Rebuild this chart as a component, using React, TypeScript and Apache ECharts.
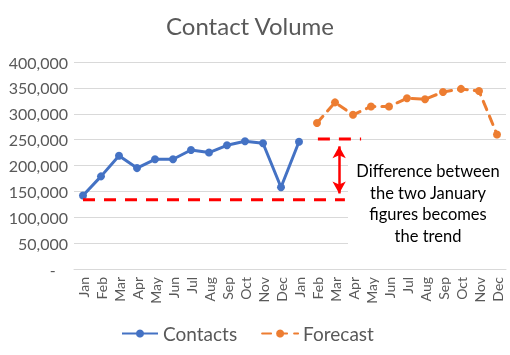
import React, { useEffect, useRef } from "react";
import * as echarts from "echarts";

const months = ["Jan","Feb","Mar","Apr","May","Jun","Jul","Aug","Sep","Oct","Nov","Dec"];
const categories = [...months, ...months];
const contacts = [142000,179000,219000,195000,212000,212000,230000,225000,239000,247000,243000,158000,246000];
const forecast = [282000,322000,298000,314000,314000,330000,328000,342000,348000,344000,260000];
// annotation values (x in category-index units, y in contact volume)
const baselineValue = 134000;
const trendValue = 251000;
const baselineX = [0, 14.55];
const trendX = [13.05, 15.45];
const arrowX = 14.23;
const arrowY = [237000, 146000];
const noteLines = ["Difference between", "the two January", "figures becomes", "the trend"];

const FONT = "Lato";

export default function App() {
  const ref = useRef<HTMLDivElement>(null);
  useEffect(() => {
    if (!ref.current) return;
    const chart = echarts.init(ref.current, null, { renderer: "svg" });
    const contactsData = categories.map((_, i) => (i < contacts.length ? contacts[i] : null));
    const forecastData = categories.map((_, i) => {
      const j = i - (categories.length - forecast.length);
      return j >= 0 ? forecast[j] : null;
    });
    chart.setOption({
      animation: false,
      textStyle: { fontFamily: FONT },
      title: {
        text: "Contact Volume",
        left: 161,
        top: 8,
        textStyle: { fontFamily: FONT, fontSize: 24, fontWeight: "normal", color: "#595959" },
      },
      legend: {
        data: ["Contacts", "Forecast"],
        left: 116,
        top: 319,
        itemWidth: 36,
        itemHeight: 10,
        itemGap: 24,
        textStyle: { fontFamily: FONT, fontSize: 19, color: "#595959" },
      },
      grid: { left: 74, right: 4, top: 62, bottom: 86, containLabel: false },
      xAxis: [
        {
          type: "category",
          data: categories,
          boundaryGap: true,
          axisLine: { lineStyle: { color: "#D9D9D9", width: 1 } },
          axisTick: { show: false },
          axisLabel: { rotate: 90, fontSize: 14, color: "#595959", margin: 8, interval: 0, fontFamily: FONT },
        },
        { type: "value", min: -0.5, max: 23.5, show: false },
      ],
      yAxis: {
        type: "value",
        min: 0,
        max: 400000,
        interval: 50000,
        axisLine: { show: false },
        axisTick: { show: false },
        splitLine: { lineStyle: { color: "#D9D9D9", width: 1 } },
        axisLabel: {
          fontSize: 16,
          color: "#595959",
          margin: 6,
          fontFamily: FONT,
          formatter: (v: number) => (v === 0 ? "-   " : v.toLocaleString("en-US")),
        },
      },
      graphic: [
        {
          type: "group",
          left: 348,
          top: 145,
          z: 100,
          children: [
            { type: "rect", z: 100, shape: { x: 0, y: 0, width: 162, height: 116 }, style: { fill: "#FFFFFF" } },
            ...noteLines.map((t, i) => ({
              type: "text",
              z: 101,
              x: 80,
              y: 26 + i * 21.5,
              style: {
                text: t,
                fontFamily: FONT,
                fontSize: 16.5,
                fill: "#000000",
                align: "center",
                verticalAlign: "middle",
              },
            })),
          ],
        },
      ],
      series: [
        {
          name: "Contacts",
          type: "line",
          data: contactsData,
          color: "#4472C4",
          symbol: "circle",
          symbolSize: 8,
          lineStyle: { width: 3, color: "#4472C4" },
          itemStyle: { color: "#4472C4" },
          z: 3,
        },
        {
          name: "Forecast",
          type: "line",
          data: forecastData,
          color: "#ED7D31",
          symbol: "circle",
          symbolSize: 8,
          lineStyle: { width: 3, color: "#ED7D31", type: [9, 7], cap: "round" },
          itemStyle: { color: "#ED7D31" },
          z: 3,
        },
        {
          name: "baseline",
          type: "line",
          xAxisIndex: 1,
          data: baselineX.map((x) => [x, baselineValue]),
          symbol: "none",
          lineStyle: { width: 3, color: "#FF0000", type: [12, 9] },
          silent: true,
          z: 4,
        },
        {
          name: "trend",
          type: "line",
          xAxisIndex: 1,
          data: trendX.map((x) => [x, trendValue]),
          symbol: "none",
          lineStyle: { width: 3, color: "#FF0000", type: [12, 9] },
          silent: true,
          z: 4,
          markLine: {
            silent: true,
            symbol: ["arrow", "arrow"],
            symbolSize: [10, 12],
            label: { show: false },
            lineStyle: { color: "#FF0000", width: 2.5, type: "solid" },
            data: [[{ coord: [arrowX, arrowY[0]] }, { coord: [arrowX, arrowY[1]] }]],
          },
        },
      ],
    });
    return () => chart.dispose();
  }, []);
  return <div ref={ref} style={{ position: "fixed", left: 0, top: 0, width: 510, height: 355 }} />;
}
